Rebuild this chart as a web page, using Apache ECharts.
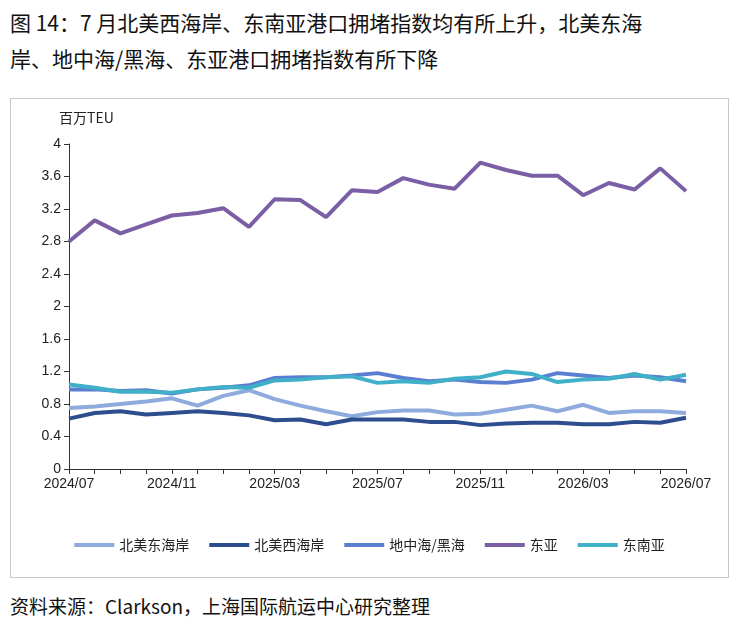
<!DOCTYPE html>
<html><head><meta charset="utf-8">
<script src="https://cdn.jsdelivr.net/npm/echarts@6/dist/echarts.min.js"></script>
<style>
body{margin:0;width:737px;height:627px;background:#fff;font-family:"Noto Sans CJK SC",sans-serif;overflow:hidden}
#title{position:absolute;left:10px;top:4px;width:730px;font-size:21px;line-height:36px;color:#111;white-space:nowrap}
#box{position:absolute;left:10px;top:98px;width:717px;height:478px;border:1px solid #c8c8c8}
#chart{width:717px;height:478px}
#src{position:absolute;left:10px;top:592px;font-size:19px;color:#111}
</style></head><body>
<div id="title">图 14：7 月北美西海岸、东南亚港口拥堵指数均有所上升，北美东海<br>岸、地中海/黑海、东亚港口拥堵指数有所下降</div>
<div id="box"><div id="chart"></div></div>
<div id="src">资料来源：Clarkson，上海国际航运中心研究整理</div>
<script>
let months = [];
for (let y = 2024, m = 7; months.length < 25; m++) {
    if (m > 12) { m = 1; y++; }
    months.push(y + '/' + (m < 10 ? '0' + m : m));
}
let naEast = [0.75,0.77,0.80,0.83,0.87,0.78,0.90,0.97,0.86,0.78,0.71,0.65,0.70,0.72,0.72,0.67,0.68,0.73,0.78,0.71,0.79,0.69,0.71,0.71,0.69];
let naWest = [0.62,0.69,0.71,0.67,0.69,0.71,0.69,0.66,0.60,0.61,0.55,0.61,0.61,0.61,0.58,0.58,0.54,0.56,0.57,0.57,0.55,0.55,0.58,0.57,0.63];
let medBlack = [0.98,0.98,0.96,0.97,0.93,0.98,1.00,1.03,1.12,1.13,1.13,1.15,1.18,1.12,1.08,1.10,1.07,1.06,1.10,1.18,1.15,1.12,1.15,1.13,1.08];
let eastAsia = [2.80,3.06,2.90,3.01,3.12,3.15,3.21,2.98,3.32,3.31,3.10,3.43,3.41,3.58,3.50,3.45,3.77,3.68,3.61,3.61,3.37,3.52,3.44,3.70,3.42];
let seAsia = [1.04,1.00,0.95,0.95,0.94,0.98,1.01,1.00,1.09,1.10,1.13,1.14,1.06,1.08,1.06,1.11,1.13,1.20,1.17,1.07,1.10,1.11,1.17,1.10,1.16];

let names = ['北美东海岸','北美西海岸','地中海/黑海','东亚','东南亚'];
let colors = ['#8faadc','#2e4d8f','#5b7fd0','#7b5fa6','#3fb0c8'];
let datas = [naEast, naWest, medBlack, eastAsia, seAsia];

let myChart = echarts.init(document.getElementById('chart'));
let option = {
    animation: false,
    color: colors,
    grid: { left: 58, right: 42, top: 45, bottom: 108 },
    legend: {
        bottom: 20, itemWidth: 40, itemHeight: 4, itemGap: 20,
        icon: 'rect',
        textStyle: { fontSize: 14, color: '#222', fontFamily: 'Noto Sans CJK SC' },
        data: names
    },
    graphic: [{ type: 'text', left: 48, top: 12, style: { text: '百万TEU', fontSize: 14, fill: '#222', fontFamily: 'Noto Sans CJK SC' } }],
    xAxis: {
        type: 'category', boundaryGap: false, data: months,
        axisLine: { lineStyle: { color: '#333' } },
        axisTick: { show: true, interval: 0, lineStyle: { color: '#333' } },
        axisLabel: { interval: 3, color: '#222', fontSize: 14, fontFamily: 'Liberation Sans' }
    },
    yAxis: {
        type: 'value', min: 0, max: 4, interval: 0.4,
        axisLine: { show: true, lineStyle: { color: '#333' } },
        axisTick: { show: true, lineStyle: { color: '#333' } },
        splitLine: { show: false },
        axisLabel: { color: '#222', fontSize: 14, fontFamily: 'Liberation Sans',
            formatter: function (v) { return +v.toFixed(1); } }
    },
    series: names.map(function (n, i) {
        return { name: n, type: 'line', data: datas[i], symbol: 'none', lineStyle: { width: 4 } };
    })
};
myChart.setOption(option);
</script>
</body></html>
